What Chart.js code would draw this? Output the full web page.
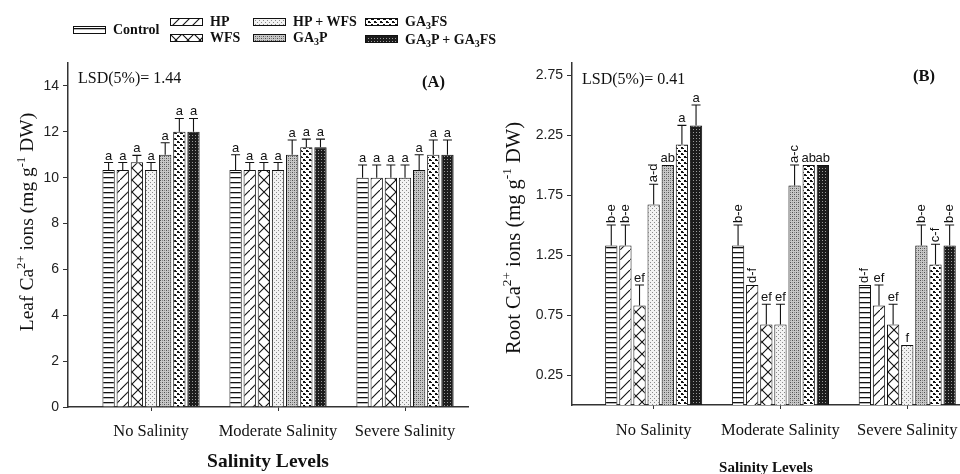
<!DOCTYPE html>
<html>
<head>
<meta charset="utf-8">
<script src="https://cdn.jsdelivr.net/npm/chart.js@4.4.1/dist/chart.umd.min.js"></script>
<style>
  body { margin: 0; width: 960px; height: 474px; overflow: hidden; background: #fff; position: relative; }
  canvas.chart { position: absolute; top: 0; display: block; }
  #chartA { left: 0; }
  #chartB { left: 480px; }
  .sw { position: absolute; display: block; }
  .lt { position: absolute; font: bold 14px 'Liberation Serif', serif; color: #111; line-height: 14px; white-space: nowrap; }
  .lt sub { font-size: 10px; vertical-align: -3px; line-height: 0; }
</style>
</head>
<body>
<canvas id="chartA" class="chart" width="480" height="474"></canvas>
<canvas id="chartB" class="chart" width="480" height="477"></canvas>
<div id="legend"></div>
<script>
const salinityLevels = ["No Salinity", "Moderate Salinity", "Severe Salinity"];
const treatments = ["Control", "HP", "WFS", "HP + WFS", "GA3P", "GA3FS", "GA3P + GA3FS"];

// (A) leaf Ca2+ -- each array = No / Moderate / Severe salinity
const leafControl = [10.33, 10.33, 10.0];
const leafHP = [10.33, 10.33, 10.0];
const leafWFS = [10.67, 10.33, 10.0];
const leafHPWFS = [10.33, 10.33, 10.0];
const leafGA3P = [11.0, 11.0, 10.33];
const leafGA3FS = [12.0, 11.33, 11.0];
const leafGA3PGA3FS = [12.0, 11.33, 11.0];

const leafErrControl = [0.33, 0.67, 0.55];
const leafErrHP = [0.33, 0.33, 0.55];
const leafErrWFS = [0.3, 0.33, 0.55];
const leafErrHPWFS = [0.33, 0.33, 0.55];
const leafErrGA3P = [0.52, 0.64, 0.67];
const leafErrGA3FS = [0.58, 0.35, 0.64];
const leafErrGA3PGA3FS = [0.58, 0.35, 0.64];

const leafLetters = ["a", "a", "a"];

// (B) root Ca2+
const rootControl = [1.33, 1.33, 1.0];
const rootHP = [1.33, 1.0, 0.83];
const rootWFS = [0.83, 0.67, 0.67];
const rootHPWFS = [1.67, 0.67, 0.5];
const rootGA3P = [2.0, 1.83, 1.33];
const rootGA3FS = [2.17, 2.0, 1.17];
const rootGA3PGA3FS = [2.33, 2.0, 1.33];

const rootErrControl = [0.17, 0.17, 0];
const rootErrHP = [0.17, 0, 0.17];
const rootErrWFS = [0.17, 0.17, 0.17];
const rootErrHPWFS = [0.17, 0.17, 0];
const rootErrGA3P = [0, 0.17, 0.17];
const rootErrGA3FS = [0.16, 0, 0.17];
const rootErrGA3PGA3FS = [0.17, 0, 0.17];

const rootLetControl = ["b-e", "b-e", "d-f"];
const rootLetHP = ["b-e", "d-f", "ef"];
const rootLetWFS = ["ef", "ef", "ef"];
const rootLetHPWFS = ["a-d", "ef", "f"];
const rootLetGA3P = ["ab", "a-c", "b-e"];
const rootLetGA3FS = ["a", "ab", "c-f"];
const rootLetGA3PGA3FS = ["a", "ab", "b-e"];

const leafTicks = [0, 2, 4, 6, 8, 10, 12, 14];
const rootTicks = [0.25, 0.75, 1.25, 1.75, 2.25, 2.75];
const categoryTicks = [0, 1, 2];

// hatch tiles, one per treatment
function makeTile(size, bg, paint) {
    const c = document.createElement("canvas");
    c.width = size; c.height = size;
    const g = c.getContext("2d");
    g.fillStyle = bg;
    g.fillRect(0, 0, size, size);
    paint(g, size);
    return c;
}

const tiles = [
    makeTile(5, "#fff", (g, s) => { g.fillStyle = "#111"; g.fillRect(0, 2, s, 1.3); }),
    makeTile(10, "#fff", (g, s) => {
        g.strokeStyle = "#111"; g.lineWidth = 1.1; g.beginPath();
        g.moveTo(-1, s + 1); g.lineTo(s + 1, -1);
        g.stroke();
    }),
    makeTile(12, "#fff", (g, s) => {
        g.strokeStyle = "#111"; g.lineWidth = 1.1; g.beginPath();
        g.moveTo(-1, s + 1); g.lineTo(s + 1, -1);
        g.moveTo(-1, -1); g.lineTo(s + 1, s + 1);
        g.stroke();
    }),
    makeTile(4, "#f2f2f2", g => {
        g.fillStyle = "#8a8a8a"; g.fillRect(0, 0, 1, 1); g.fillRect(2, 2, 1, 1);
    }),
    makeTile(4, "#c8c8c8", g => {
        g.fillStyle = "#505050"; g.fillRect(0, 0, 1, 1); g.fillRect(2, 2, 1, 1);
        g.fillStyle = "#888"; g.fillRect(2, 0, 1, 1); g.fillRect(0, 2, 1, 1);
    }),
    makeTile(6, "#fff", g => {
        g.fillStyle = "#111"; g.fillRect(0, 0, 2, 2); g.fillRect(3, 3, 2, 2);
        g.fillRect(2, 1, 1, 1); g.fillRect(5, 4, 1, 1);
    }),
    makeTile(3, "#1c1c1c", g => { g.fillStyle = "#9a9a9a"; g.fillRect(0, 0, 1, 1); })
];

// error bars + significance letters
const errorBarPlugin = {
    id: "errorBars",
    afterDatasetsDraw(chart) {
        const ctx = chart.ctx;
        const yScale = chart.scales.y;
        chart.data.datasets.forEach((ds, di) => {
            const meta = chart.getDatasetMeta(di);
            meta.data.forEach((bar, i) => {
                const e = ds.errors[i];
                const top = yScale.getPixelForValue(ds.data[i].y + e);
                ctx.save();
                ctx.strokeStyle = "#111";
                ctx.lineWidth = 1.1;
                if (e > 0) {
                    ctx.beginPath();
                    ctx.moveTo(bar.x, bar.y);
                    ctx.lineTo(bar.x, top);
                    ctx.moveTo(bar.x - 4.5, top);
                    ctx.lineTo(bar.x + 4.5, top);
                    ctx.stroke();
                }
                const lab = ds.letters[i];
                ctx.fillStyle = "#111";
                ctx.font = "13px 'Liberation Sans'";
                if (lab.length > 2) {
                    ctx.translate(bar.x, top - 2);
                    ctx.rotate(-Math.PI / 2);
                    ctx.textAlign = "left";
                    ctx.textBaseline = "middle";
                    ctx.fillText(lab, 0, 0);
                } else {
                    ctx.textAlign = "center";
                    ctx.textBaseline = "alphabetic";
                    ctx.fillText(lab, bar.x, top - 3);
                }
                ctx.restore();
            });
        });
    }
};

// LSD note, panel tag and the rotated y title with superscripts
function makeTextPlugin(notes, yTitle) {
    return {
        id: "panelText",
        afterDraw(chart) {
            const ctx = chart.ctx;
            ctx.save();
            ctx.fillStyle = "#111";
            ctx.textAlign = "left";
            ctx.textBaseline = "middle";
            notes.forEach(n => {
                ctx.font = n.font;
                ctx.fillText(n.text, n.x, n.y);
            });
            const big = yTitle.size + "px 'Liberation Serif'";
            const small = (yTitle.size * 0.65) + "px 'Liberation Serif'";
            let total = 0;
            yTitle.parts.forEach(([s, sup]) => {
                ctx.font = sup ? small : big;
                total += ctx.measureText(s).width;
            });
            ctx.translate(yTitle.x, yTitle.y);
            ctx.rotate(-Math.PI / 2);
            ctx.textBaseline = "alphabetic";
            let x = -total / 2;
            const base = yTitle.size * 0.33;
            yTitle.parts.forEach(([s, sup]) => {
                ctx.font = sup ? small : big;
                ctx.fillText(s, x, sup ? base - yTitle.size * 0.42 : base);
                x += ctx.measureText(s).width;
            });
            ctx.restore();
        }
    };
}

function panel(canvasId, p) {
    const canvas = document.getElementById(canvasId);
    const ctx = canvas.getContext("2d");
    const fills = tiles.map(t => ctx.createPattern(t, "repeat"));

    return new Chart(ctx, {
        type: "bar",
        data: {
            datasets: treatments.map((name, t) => ({
                label: name,
                data: p.values[t].map((v, i) => ({ x: i, y: v })),
                errors: p.errors[t],
                letters: p.letters[t],
                backgroundColor: fills[t],
                borderColor: "#111",
                borderWidth: 1,
                categoryPercentage: 0.78,
                barPercentage: 0.87
            }))
        },
        options: {
            responsive: false,
            animation: false,
            layout: { padding: { top: 63, right: p.padRight, left: 0, bottom: 0 } },
            plugins: {
                legend: { display: false },
                tooltip: { enabled: false }
            },
            scales: {
                x: {
                    type: "linear",
                    offset: false,
                    min: p.xMin,
                    max: p.xMax,
                    afterBuildTicks: s => { s.ticks = categoryTicks.map(v => ({ value: v })); },
                    afterFit: s => {
                        s.height = canvas.height - p.bottom;
                        s.paddingLeft = 0; s.paddingRight = 0;
                    },
                    grid: { offset: false, drawOnChartArea: false, drawTicks: true, tickLength: 4, color: "#333" },
                    border: { display: true, color: "#333", width: 1.5 },
                    ticks: {
                        callback: v => salinityLevels[v],
                        font: { family: "Liberation Serif", size: 16.5 },
                        color: "#111",
                        padding: p.xPad,
                        maxRotation: 0,
                        autoSkip: false
                    },
                    title: {
                        display: true,
                        text: "Salinity Levels",
                        font: { family: "Liberation Serif", size: p.xTitleSize, weight: "bold" },
                        color: "#111",
                        padding: { top: 0, bottom: 0 }
                    }
                },
                y: {
                    min: 0,
                    max: p.yMax,
                    afterBuildTicks: s => { s.ticks = p.yTicks.map(v => ({ value: v })); },
                    afterFit: s => {
                        s.width = p.left;
                        s.paddingTop = 0; s.paddingBottom = 0;
                    },
                    grid: { drawOnChartArea: false, drawTicks: true, tickLength: 5, color: "#333" },
                    border: { display: true, color: "#333", width: 1.5 },
                    ticks: {
                        callback: p.yFmt,
                        font: { family: "Liberation Sans", size: 14 },
                        color: "#222",
                        padding: 4
                    }
                }
            }
        },
        plugins: [errorBarPlugin, makeTextPlugin(p.notes, p.yTitle)]
    });
}

window.onload = () => {
    panel("chartA", {
        values: [leafControl, leafHP, leafWFS, leafHPWFS, leafGA3P, leafGA3FS, leafGA3PGA3FS],
        errors: [leafErrControl, leafErrHP, leafErrWFS, leafErrHPWFS, leafErrGA3P, leafErrGA3FS, leafErrGA3PGA3FS],
        letters: treatments.map(() => leafLetters),
        yTicks: leafTicks,
        yMax: 15,
        yFmt: v => String(v),
        xMin: -0.654, xMax: 2.496,
        left: 68, padRight: 12, bottom: 407,
        xPad: 11, xTitleSize: 19.5,
        notes: [
            { text: "LSD(5%)= 1.44", x: 78, y: 79, font: "16px 'Liberation Serif'" },
            { text: "(A)", x: 422, y: 83, font: "bold 16.5px 'Liberation Serif'" }
        ],
        yTitle: { x: 27, y: 222, size: 19.5, parts: [["Leaf Ca", 0], ["2+", 1], [" ions (mg g", 0], ["-1", 1], [" DW)", 0]] }
    });

    panel("chartB", {
        values: [rootControl, rootHP, rootWFS, rootHPWFS, rootGA3P, rootGA3FS, rootGA3PGA3FS],
        errors: [rootErrControl, rootErrHP, rootErrWFS, rootErrHPWFS, rootErrGA3P, rootErrGA3FS, rootErrGA3PGA3FS],
        letters: [rootLetControl, rootLetHP, rootLetWFS, rootLetHPWFS, rootLetGA3P, rootLetGA3FS, rootLetGA3PGA3FS],
        yTicks: rootTicks,
        yMax: 2.85,
        yFmt: v => v.toFixed(2),
        xMin: -0.644, xMax: 2.416,
        left: 92, padRight: 0, bottom: 405,
        xPad: 12, xTitleSize: 15,
        notes: [
            { text: "LSD(5%)= 0.41", x: 102, y: 80, font: "16px 'Liberation Serif'" },
            { text: "(B)", x: 433, y: 77, font: "bold 16.5px 'Liberation Serif'" }
        ],
        yTitle: { x: 33, y: 238, size: 20.5, parts: [["Root Ca", 0], ["2+", 1], [" ions (mg g", 0], ["-1", 1], [" DW)", 0]] }
    });

    // legend: swatch left/top, text left/centre y
    const legendPos = [[73, 26, 113, 30], [170, 18, 210, 22], [170, 34, 210, 38], [253, 18, 293, 22],
                       [253, 34, 293, 38], [365, 18, 405, 22], [365, 35, 405, 40]];
    const legend = document.getElementById("legend");
    treatments.forEach((name, t) => {
        const [sx, sy, tx, ty] = legendPos[t];
        const sw = document.createElement("canvas");
        sw.className = "sw";
        sw.width = 33; sw.height = 8;
        sw.style.left = sx + "px"; sw.style.top = sy + "px";
        const g = sw.getContext("2d");
        g.fillStyle = g.createPattern(tiles[t], "repeat");
        g.fillRect(0, 0, 33, 8);
        g.strokeStyle = "#111"; g.lineWidth = 1;
        g.strokeRect(0.5, 0.5, 32, 7);
        legend.appendChild(sw);

        const lt = document.createElement("div");
        lt.className = "lt";
        lt.style.left = tx + "px"; lt.style.top = (ty - 7) + "px";
        lt.innerHTML = name.replace(/GA3/g, "GA<sub>3</sub>");
        legend.appendChild(lt);
    });
};
</script>
</body>
</html>
